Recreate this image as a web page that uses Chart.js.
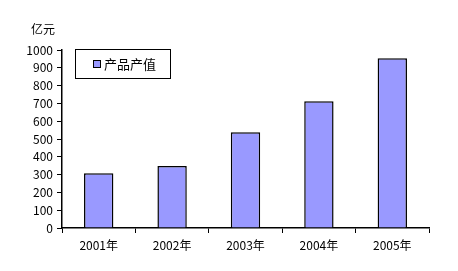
<!DOCTYPE html>
<html>
<head>
<meta charset="utf-8">
<script src="https://cdn.jsdelivr.net/npm/chart.js@4"></script>
<style>
  html, body { margin: 0; padding: 0; background: #fff; }
  #wrap { width: 458px; height: 271px; position: relative; }
</style>
</head>
<body>
<div id="wrap"><canvas id="chart" width="458" height="271"></canvas></div>
<script>
// chart data
const years = ['2001年', '2002年', '2003年', '2004年', '2005年'];
const outputValues = [307, 348, 538, 712, 953];
const seriesName = '产品产值';
const unitLabel = '亿元';
const yTicks = [0, 100, 200, 300, 400, 500, 600, 700, 800, 900, 1000];

const FONT = '"Noto Sans CJK SC", "DejaVu Sans", sans-serif';

// draws the unit title and the boxed legend
const extras = {
  id: 'extras',
  afterDraw(chart) {
    const ctx = chart.ctx;
    const ds = chart.data.datasets[0];
    ctx.save();
    ctx.fillStyle = '#000';
    ctx.font = '12px ' + FONT;
    ctx.textBaseline = 'middle';
    ctx.textAlign = 'left';
    ctx.fillText(unitLabel, 31, 29);

    // legend box
    ctx.strokeStyle = '#000';
    ctx.lineWidth = 1;
    ctx.fillStyle = '#fff';
    ctx.fillRect(75.5, 49.5, 95, 29);
    ctx.strokeRect(75.5, 49.5, 95, 29);
    ctx.fillStyle = ds.backgroundColor;
    ctx.fillRect(93.5, 60.5, 7, 7);
    ctx.strokeRect(93.5, 60.5, 7, 7);
    ctx.fillStyle = '#000';
    ctx.font = '13px ' + FONT;
    ctx.fillText(ds.label, 104, 64);
    ctx.restore();
  }
};

new Chart(document.getElementById('chart'), {
  type: 'bar',
  data: {
    labels: years,
    datasets: [{
      label: seriesName,
      data: outputValues,
      backgroundColor: '#9999FF',
      borderColor: '#000',
      borderWidth: 1.5,
      barPercentage: 0.4,
      categoryPercentage: 1
    }]
  },
  options: {
    responsive: false,
    animation: false,
    layout: { padding: { left: 0, top: 50, right: 29, bottom: 0 } },
    plugins: {
      legend: { display: false },
      tooltip: { enabled: false }
    },
    scales: {
      x: {
        grid: { display: true, drawOnChartArea: false, color: '#000', tickLength: 5, offset: true },
        border: { color: '#000', width: 1.5 },
        ticks: { color: '#000', font: { family: FONT, size: 12 }, padding: 5, maxRotation: 0 },
        afterFit(scale) { scale.height = 43; }
      },
      y: {
        min: 0,
        max: 1000,
        afterBuildTicks(scale) { scale.ticks = yTicks.map(v => ({ value: v })); },
        grid: { display: true, drawOnChartArea: false, color: '#000', tickLength: 5 },
        border: { color: '#000', width: 1.5 },
        ticks: { color: '#000', font: { family: FONT, size: 12 }, padding: 4, callback: v => String(v) },
        afterFit(scale) { scale.width = 62; }
      }
    }
  },
  plugins: [extras]
});
</script>
</body>
</html>
